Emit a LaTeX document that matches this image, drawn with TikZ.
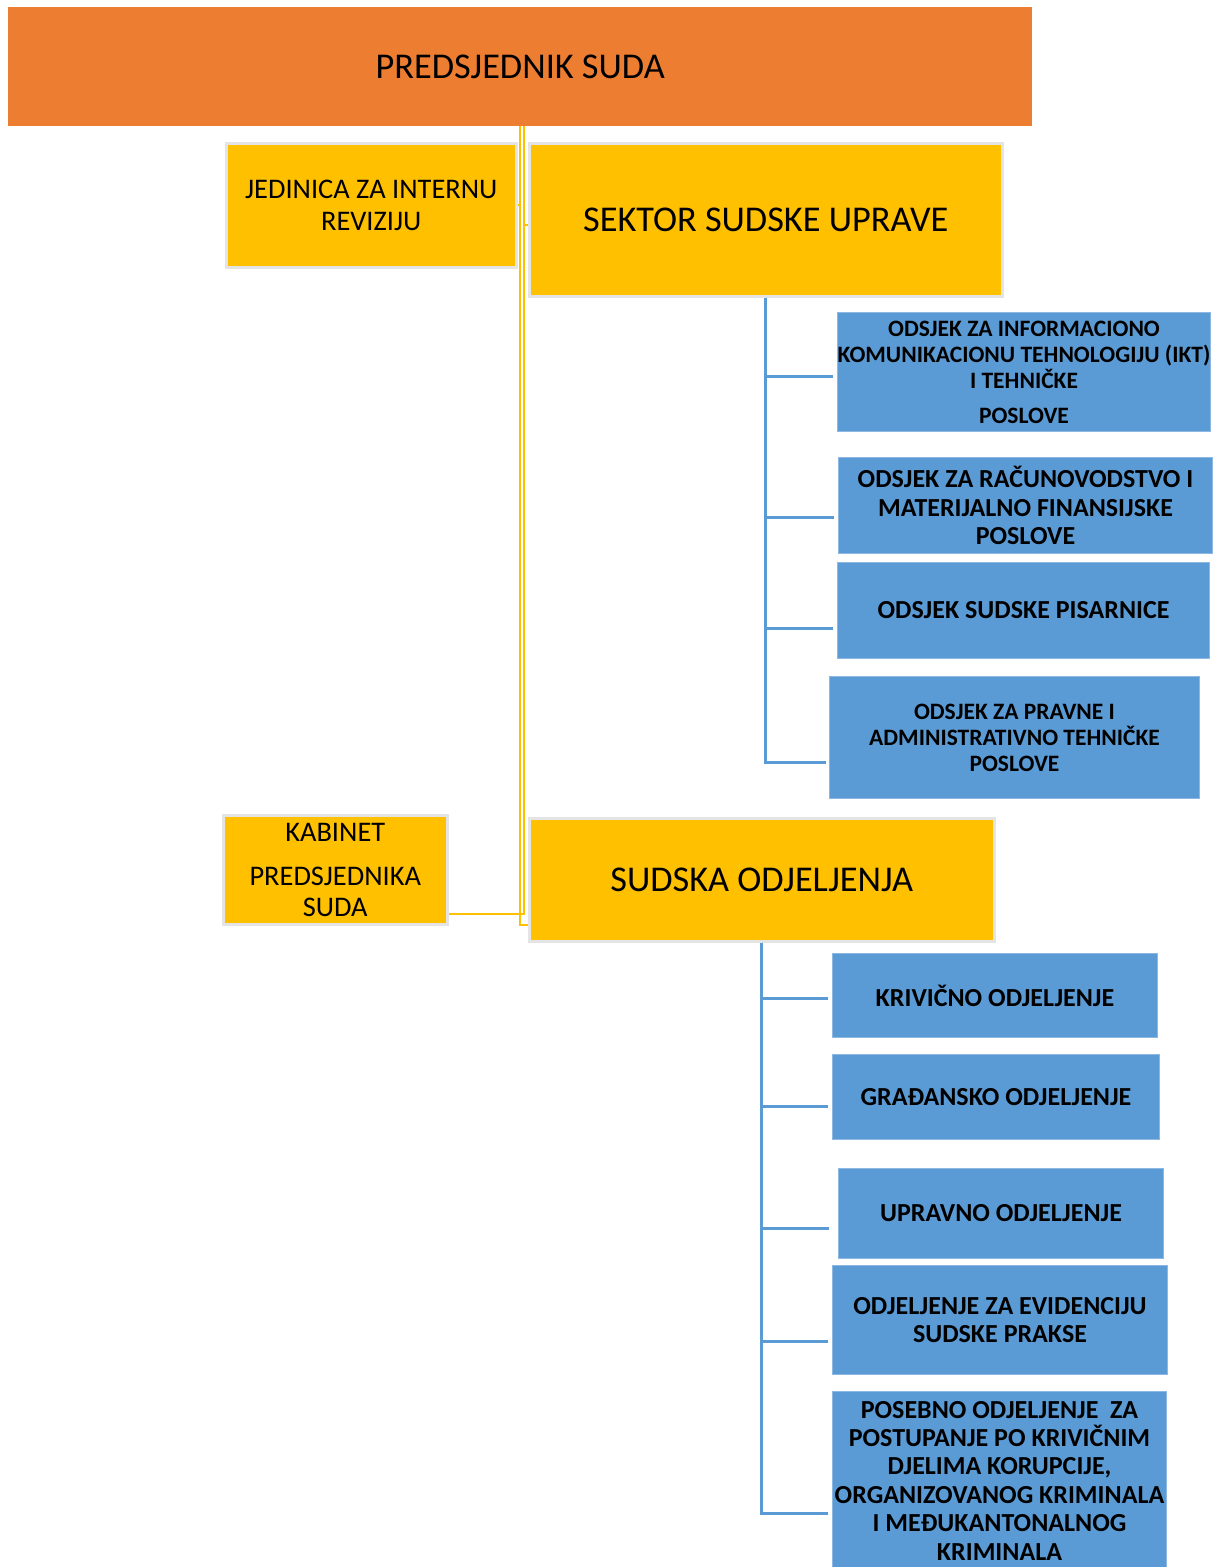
\documentclass[tikz,border=0pt]{standalone}
\usepackage{fontspec}
\setmainfont{Carlito}
\definecolor{org}{HTML}{ED7D31}
\definecolor{yel}{HTML}{FFC000}
\definecolor{blu}{HTML}{5B9BD5}
\definecolor{blub}{HTML}{8DB8E3}
\definecolor{gbord}{HTML}{E4E4E4}
\tikzset{
  ybox/.style={fill=yel, draw=gbord, line width=2.5pt, inner sep=0pt, anchor=north west, align=center},
  bbox/.style={fill=blu, draw=blub, line width=1pt, inner sep=0pt, anchor=north west, align=center, font=\fontsize{26}{28.4}\selectfont\bfseries},
  bsmall/.style={font=\fontsize{23.5}{26}\selectfont\bfseries},
  yline/.style={draw=yel, line width=2pt},
  bline/.style={draw=blu, line width=2.8pt},
}
\begin{document}
\begin{tikzpicture}[x=1pt,y=-1pt]
\useasboundingbox (0,0) rectangle (1219,1567);
\fill[white] (0,0) rectangle (1219,1567);
% top
\node[fill=org, inner sep=0pt, anchor=north west, minimum width=1024pt, minimum height=119pt, font=\fontsize{36.3}{40}\selectfont] (pres) at (8,7) {PREDSJEDNIK SUDA};
% yellow boxes
\node[ybox, minimum width=290pt, minimum height=124pt, font=\fontsize{28.4}{32}\selectfont] (jed) at (225,142) {JEDINICA ZA INTERNU\\REVIZIJU};
\node[ybox, minimum width=473pt, minimum height=153pt, font=\fontsize{36.3}{40}\selectfont] (sek) at (528,142) {SEKTOR SUDSKE UPRAVE};
\node[ybox, minimum width=224pt, minimum height=109pt, font=\fontsize{28.4}{31}\selectfont] (kab) at (222,814) {KABINET\\[13pt]PREDSJEDNIKA\\SUDA};
\node[ybox, minimum width=465pt, minimum height=123pt, font=\fontsize{36.3}{40}\selectfont] (sud) at (528,817) {SUDSKA ODJELJENJA};
% blue boxes sector
\node[bbox, bsmall, minimum width=373pt, minimum height=119pt] (b1) at (837,312) {ODSJEK ZA INFORMACIONO\\KOMUNIKACIONU TEHNOLOGIJU (IKT)\\I TEHNIČKE\\[9pt]POSLOVE};
\node[bbox, minimum width=374pt, minimum height=96pt] (b2) at (838,457) {ODSJEK ZA RAČUNOVODSTVO I\\MATERIJALNO FINANSIJSKE\\POSLOVE};
\node[bbox, minimum width=372pt, minimum height=96pt] (b3) at (837,562) {ODSJEK SUDSKE PISARNICE};
\node[bbox, bsmall, minimum width=370pt, minimum height=122pt] (b4) at (829,676) {ODSJEK ZA PRAVNE I\\ADMINISTRATIVNO TEHNIČKE\\POSLOVE};
% blue boxes departments
\node[bbox, minimum width=325pt, minimum height=84pt] (b5) at (832,953) {KRIVIČNO ODJELJENJE};
\node[bbox, minimum width=327pt, minimum height=85pt] (b6) at (832,1054) {GRAĐANSKO ODJELJENJE};
\node[bbox, minimum width=325pt, minimum height=90pt] (b7) at (838,1168) {UPRAVNO ODJELJENJE};
\node[bbox, minimum width=335pt, minimum height=109pt] (b8) at (832,1265) {ODJELJENJE ZA EVIDENCIJU\\SUDSKE PRAKSE};
\node[bbox, minimum width=334pt, minimum height=178pt] (b9) at (832,1391) {POSEBNO ODJELJENJE~~ZA\\POSTUPANJE PO KRIVIČNIM\\DJELIMA KORUPCIJE,\\ORGANIZOVANOG KRIMINALA\\I MEĐUKANTONALNOG\\KRIMINALA};
% yellow connectors
\draw[yline] (pres.south) |- (jed.east);
\draw[yline] (pres.south) |- ([yshift=18pt]sud.south west);
\draw[yline] ([xshift=4pt]pres.south) |- ([yshift=-5pt]sek.west);
\draw[yline] ([xshift=4pt]pres.south) |- ([yshift=12pt]kab.south east);
% blue connectors
\draw[bline, shorten >=4pt] (sek.south) |- ([yshift=-4.5pt]b1.west);
\draw[bline, shorten >=4pt] (sek.south) |- ([yshift=-12pt]b2.west);
\draw[bline, shorten >=4pt] (sek.south) |- ([yshift=-18pt]b3.west);
\draw[bline, shorten >=3pt] (sek.south) |- ([yshift=-25pt]b4.west);
\draw[bline, shorten >=4pt] (sud.south) |- ([yshift=-3pt]b5.west);
\draw[bline, shorten >=4pt] (sud.south) |- ([yshift=-9.5pt]b6.west);
\draw[bline, shorten >=9pt] (sud.south) |- ([yshift=-15pt]b7.west);
\draw[bline, shorten >=4pt] (sud.south) |- ([yshift=-21.5pt]b8.west);
\draw[bline, shorten >=4pt] (sud.south) |- ([yshift=-33pt]b9.west);
\end{tikzpicture}
\end{document}
